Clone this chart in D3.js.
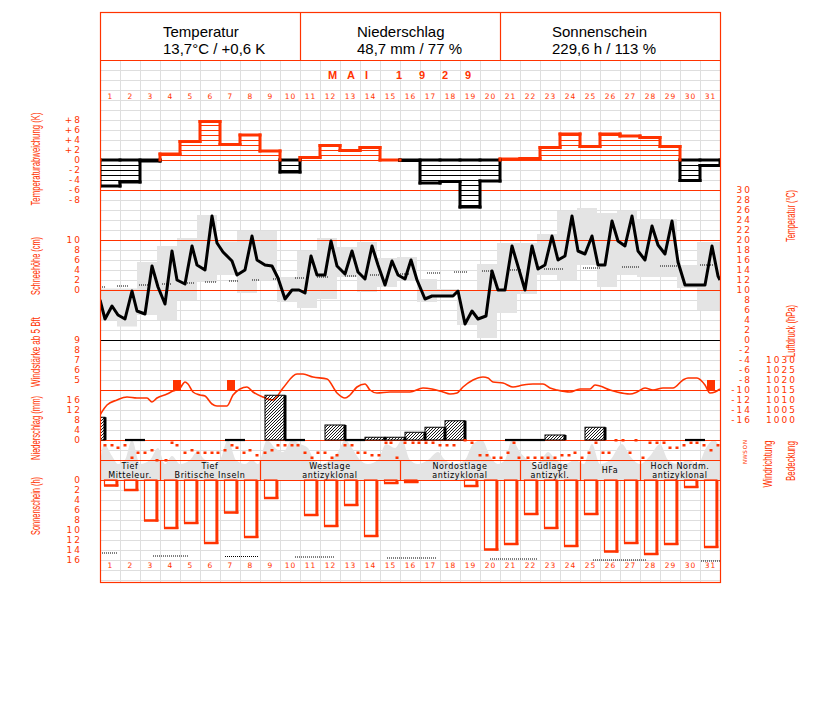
<!DOCTYPE html>
<html><head><meta charset="utf-8">
<script src="https://cdn.jsdelivr.net/npm/d3@7"></script>
<style>body{margin:0;background:#fff}</style></head>
<body><svg id="c" width="827" height="702"></svg>
<script>
// ---------------- DATA ----------------
const headerTitles = ["Temperatur","Niederschlag","Sonnenschein"];
const headerValues = ["13,7°C / +0,6 K","48,7 mm / 77 %","229,6 h / 113 %"];
const monthLabel = "MAI";
const yearLabel = "1929";
const days = d3.range(1,32);

// daily temperature anomaly (K)
const anomaly = [-5.2,-4.4,-0.2,1.2,3.7,7.7,3.1,5.0,1.8,-2.4,0.5,2.9,1.9,2.5,0.0,-0.1,-4.6,-4.3,-9.4,-4.2,0.2,0.3,2.5,5.2,2.7,5.2,4.8,4.5,2.7,-4.1,-1.1];

// daily max / min temperature (°C)
const tmax = [10.3,10.3,15.6,18.8,20.4,25.0,19.7,21.8,21.8,12.6,17.8,20.4,18.6,19.6,16.4,16.6,12.2,10.2,9.8,15.2,19.4,19.4,21.2,25.8,26.4,25.4,25.8,24.2,24.2,15.0,19.6];
const tmin = [4.0,2.7,5.0,4.0,8.0,11.6,13.0,9.4,12.0,7.6,6.4,8.2,12.6,9.6,10.6,12.0,7.6,9.0,3.0,0.4,5.4,9.2,13.0,12.0,15.0,10.6,13.0,12.6,12.6,10.4,6.0];

// temperature course (time in days since 1 May 0h, °C)
const tempT = [0,0.25,0.6,0.9,1.25,1.6,1.85,2.25,2.6,2.9,3.25,3.6,3.85,4.25,4.6,4.85,5.25,5.6,5.85,6.15,6.6,6.85,7.25,7.6,7.85,8.25,8.6,8.9,9.25,9.6,9.95,10.25,10.55,10.85,11.25,11.55,11.85,12.25,12.6,12.9,13.25,13.6,13.9,14.25,14.6,14.9,15.25,15.55,15.85,16.25,16.6,17.65,17.9,18.25,18.6,18.9,19.3,19.6,19.9,20.25,20.6,21.25,21.6,21.9,22.25,22.6,22.9,23.25,23.6,23.9,24.25,24.6,24.9,25.25,25.6,25.9,26.25,26.6,26.9,27.25,27.6,27.9,28.25,28.6,28.9,29.25,30.25,30.6,30.9,31];
const tempV = [8.0,4.2,6.8,5.0,4.2,9.8,5.8,5.2,14.8,10.6,7.2,17.8,12.0,11.2,18.8,15.0,14.0,24.8,19.4,17.6,15.8,13.0,14.0,20.8,16.0,15.0,14.8,12.4,8.2,10.0,10.0,9.4,16.8,13.0,13.0,19.8,14.8,13.2,17.8,13.6,12.2,18.8,15.0,11.0,15.8,13.0,12.2,16.0,12.0,8.2,8.8,8.8,9.8,3.2,5.8,4.2,4.8,13.8,10.0,10.0,18.8,10.0,18.8,14.2,15.0,20.8,16.0,16.8,24.8,17.8,17.2,20.8,15.0,15.0,23.8,19.8,18.8,24.8,17.8,16.0,22.8,19.0,17.2,23.8,15.6,11.0,11.0,18.8,12.8,12.0];

// normal temperature marks [from day, to day, °C]
const tempNormal = [[0,0.3,10.6],[0.85,1.4,10.8],[1.95,2.4,11.0],[3.1,3.6,11.2],[4.35,4.75,11.4],[5.25,5.85,11.6],[6.45,6.9,11.8],[7.6,8.0,12.0],[8.65,9.0,12.2],[9.75,10.2,12.4],[10.85,11.45,12.6],[12.25,12.85,12.8],[13.5,14.0,13.0],[14.9,15.5,13.2],[16.35,17.0,13.4],[17.7,18.35,13.6],[19.1,19.65,13.8],[20.4,21.1,14.0],[22.2,23.15,14.2],[24.15,25.0,14.4],[26.1,27.0,14.6],[28.0,28.95,14.8],[30.0,30.65,15.0]];

// air pressure (time in days, hPa)
const pressT = [0,0.35,0.85,1.35,1.85,2.35,2.6,2.85,3.35,3.65,4.0,4.25,4.4,4.65,5.0,5.25,5.6,5.85,6.35,6.65,7.0,7.35,7.65,8.15,8.65,9.15,9.85,10.15,10.65,11.35,11.85,12.25,12.5,12.85,13.25,13.5,13.85,14.5,15.5,16.15,16.6,17.15,17.5,17.85,18.15,18.65,19.15,19.4,19.65,20.15,20.65,21.15,21.65,22.15,22.5,22.85,23.5,24.0,24.5,24.75,25.0,25.5,25.85,26.5,26.85,27.25,27.65,28.15,28.65,29.15,29.4,29.85,30.25,30.5,30.75,31];
const pressV = [1002.5,1007.5,1010,1011.5,1011,1011,1009,1011,1013,1014.5,1016,1019,1018,1014,1012.5,1012,1008,1007,1007,1012.5,1015.5,1016.5,1014,1011.5,1010,1016,1023,1023,1021.5,1020.5,1013.5,1011,1012.5,1016.5,1018,1015,1013.5,1014,1014,1016,1015.5,1014,1013,1013.5,1016.5,1020,1021.5,1021,1019,1018.5,1016.5,1017.5,1018,1018,1016,1015,1014,1015.5,1015.5,1017.5,1017,1015,1014,1013,1014,1016,1015,1016,1016,1020,1021,1021,1017.5,1013.5,1014,1015.5];

// wind force >= 5 Bft [time in days, Bft]
const strongWind = [[3.65,5],[6.35,5],[30.35,5]];

// precipitation bars [measurement index, mm] ; traces (index)
const precipIdx = [-1,8,11,13,14,15,16,17,22,24];
const precipMM  = [9.1,17.9,6.0,1.1,1.1,3.1,5.1,7.7,2.0,5.1];
const precipTrace = [1,6,9,12,20,21,29];

// wind direction (time in days, degrees: 0=N, 90=O, 180=S, 270=W)
const windT = [0.25,0.6,0.9,1.25,1.6,1.9,2.25,2.6,2.85,3.3,3.6,3.85,4.25,4.6,4.9,5.25,5.6,5.9,6.25,6.6,6.85,7.2,7.5,7.85,8.25,8.6,8.9,9.25,9.6,9.9,10.25,10.6,10.9,11.25,11.6,11.85,12.25,12.6,12.9,13.25,13.6,13.95,14.3,14.55,14.85,15.25,15.65,15.95,16.3,16.65,17.0,17.35,17.7,18.25,18.6,19.0,19.35,19.7,20.05,20.4,20.7,20.95,21.4,21.75,22.1,22.4,22.75,23.1,23.45,23.75,24.1,24.45,24.8,25.15,25.45,25.8,26.15,26.5,26.8,27.15,27.5,27.85,28.2,28.5,28.85,29.2,29.55,29.85,30.2,30.55,30.9];
const windDir = [90,90,135,90,315,225,225,180,360,360,45,90,225,180,225,225,225,225,180,90,135,225,180,270,225,180,90,90,90,90,225,315,225,225,315,270,90,90,225,225,270,270,45,45,315,45,45,45,45,45,90,90,90,0,45,270,270,315,315,225,45,315,315,315,315,315,315,270,270,225,315,225,45,225,225,0,0,225,0,315,45,45,45,135,135,90,45,45,90,180,90];

// cloud cover (time in days, tenths)
const cloudT = [0,0.2,0.6,0.9,1.25,1.6,2.0,2.5,2.9,3.25,3.6,4.0,4.5,4.85,5.25,5.6,6.0,6.4,6.8,7.25,7.6,7.9,8.35,8.75,9.15,9.6,10.0,10.4,10.7,11.1,11.5,11.9,12.25,12.6,13.0,13.4,13.9,14.3,14.75,15.1,15.5,15.9,16.4,16.9,17.25,17.75,18.25,18.65,19.1,19.5,19.9,20.25,20.6,21.0,21.4,21.9,22.4,22.8,23.25,23.75,24.2,24.6,25.0,25.5,26.1,26.5,27.0,27.5,28.0,28.4,28.9,29.4,29.9,30.3,30.7,31];
const cloudV = [4,9,6,4,5,10,4,5,8,4,6,4,5,7,5,4,5,10,5,4,5,4,10,8,7,10,9,8,5,4,5,7,10,8,5,4,5,9,8,10,5,4,5,7,5,4,5,9,10,6,4,5,10,7,5,4,7,5,4,5,4,9,4,5,9,6,4,6,9,5,4,5,4,8,10,8];

// Großwetterlagen [first day, last day, line 1, line 2]
const gwlFrom = [1,4,9,16,22,25,28];
const gwlTo   = [3,8,15,21,24,27,31];
const gwlL1 = ["Tief","Tief","Westlage","Nordostlage","Südlage","HFa","Hoch Nordm."];
const gwlL2 = ["Mitteleur.","Britische Inseln","antizyklonal","antizyklonal","antizykl.","","antizyklonal"];

// sunshine duration (h)
const sunshine = [1.1,2.0,8.1,9.6,8.6,12.6,6.5,11.4,3.6,0,7.0,9.2,5.0,11.2,0.6,0.4,0,0,1.2,13.9,12.8,6.8,9.6,13.2,6.8,14.3,12.6,14.8,12.8,1.4,13.4];
// normal sunshine marks [from day, to day, h]
const sunNormal = [[0,0.9,14.6],[2.65,4.4,15.2],[6.25,7.9,15.3],[9.75,11.75,15.4],[14.35,16.85,15.6],[19.5,21.9,15.8],[24.65,27.35,16.0],[30.05,31,16.2]];

// axis tick values
const anomTicks = [8,6,4,2,0,-2,-4,-6,-8];
const snowTicks = [10,8,6,4,2,0];
const windTicks = [9,8,7,6,5];
const precTicks = [16,12,8,4,0];
const sunTicks = [0,2,4,6,8,10,12,14,16];
const tempTicks = d3.range(30,-17,-2);
const pressTicks = [1030,1025,1020,1015,1010,1005,1000];
const dirLabels = ["N","O","S","W","N"];

// ---------------- DRAW ----------------
const RED = "#ff3300", GRID = "#dedede", GRAY = "#e4e4e4";
const svg = d3.select("#c");
const x = d3.scaleLinear().domain([0,31]).range([100,720]);
const yAnom = d3.scaleLinear().domain([-8,8]).range([200,120]);
const yTemp = d3.scaleLinear().domain([-16,30]).range([420,190]);
const ySnow = d3.scaleLinear().domain([0,10]).range([290,240]);
const yWind = d3.scaleLinear().domain([4,9]).range([390,340]);
const yPress = d3.scaleLinear().domain([1000,1030]).range([420,360]);
const yPrec = d3.scaleLinear().domain([0,16]).range([440,400]);
const yDir = d3.scaleLinear().domain([0,360]).range([440,460]);
const yCloud = d3.scaleLinear().domain([0,10]).range([480,440]);
const ySun = d3.scaleLinear().domain([0,16]).range([480,560]);

const defs = svg.append("defs");
defs.append("clipPath").attr("id","plotclip").append("rect").attr("x",100).attr("y",60).attr("width",620).attr("height",522);
defs.append("pattern").attr("id","hatch").attr("patternUnits","userSpaceOnUse").attr("width",3).attr("height",3)
  .append("path").attr("d","M-1,1 l2,-2 M0,3 l3,-3 M2,4 l2,-2").attr("stroke","#000").attr("stroke-width",0.9);

const plot = svg.append("g").attr("clip-path","url(#plotclip)");

// grid
const grid = plot.append("g").attr("stroke",GRID).attr("stroke-width",1);
grid.selectAll("line.h").data(d3.range(70,582,10)).join("line").attr("class","h")
  .attr("x1",100).attr("x2",720).attr("y1",d=>d+0.5).attr("y2",d=>d+0.5);
grid.selectAll("line.v").data(d3.range(1,31)).join("line").attr("class","v")
  .attr("x1",d=>x(d)+0.5).attr("x2",d=>x(d)+0.5).attr("y1",60).attr("y2",582);

// cloud cover area
plot.append("path").datum(d3.zip(cloudT,cloudV))
  .attr("d",d3.area().x(d=>x(d[0])).y0(yCloud(0)).y1(d=>yCloud(d[1])).curve(d3.curveMonotoneX))
  .attr("fill",GRAY);

// temperature range boxes
plot.append("g").selectAll("rect").data(days).join("rect")
  .attr("x",d=>x(d-1.15)).attr("width",(d)=> d===31 ? x(1.15)-x(0) : x(1)-x(0))
  .attr("y",(d,i)=>yTemp(tmax[i])).attr("height",(d,i)=>yTemp(tmin[i])-yTemp(tmax[i]))
  .attr("fill",GRAY);

// reference lines
const refs = [[yAnom(0),RED],[yTemp(30),RED],[yTemp(20),RED],[yTemp(10),RED],[yTemp(0),"#000"],[yPress(1015),RED],[yPrec(0),RED],[460,RED],[480,RED],[60,RED]];
plot.append("g").selectAll("line").data(refs).join("line")
  .attr("x1",100).attr("x2",720).attr("y1",d=>Math.round(d[0])+0.5).attr("y2",d=>Math.round(d[0])+0.5)
  .attr("stroke",d=>d[1]).attr("stroke-width",1.2);

// normal temperature marks
plot.append("g").selectAll("line").data(tempNormal).join("line")
  .attr("x1",d=>x(d[0])).attr("x2",d=>x(d[1])).attr("y1",d=>yTemp(d[2])).attr("y2",d=>yTemp(d[2]))
  .attr("stroke","#000").attr("stroke-width",1).attr("stroke-dasharray","1,1");

// temperature curve
plot.append("path").datum(d3.zip(tempT,tempV))
  .attr("d",d3.line().x(d=>x(d[0])).y(d=>yTemp(d[1])))
  .attr("fill","none").attr("stroke","#000").attr("stroke-width",3).attr("stroke-linejoin","round");

// anomaly hatch
const hatchData = [];
anomaly.forEach((v,i)=>{ const s=Math.sign(v)||1; for(let k=1;k<Math.abs(v)-0.05;k++) hatchData.push({i,val:s*k,pos:v>=0}); });
plot.append("g").selectAll("line").data(hatchData).join("line")
  .attr("x1",d=>x(d.i)).attr("x2",d=>x(d.i+1)).attr("y1",d=>Math.round(yAnom(d.val))+0.5).attr("y2",d=>Math.round(yAnom(d.val))+0.5)
  .attr("stroke",d=>d.pos?RED:"#000").attr("stroke-width",1);
// anomaly outline
const ag = plot.append("g").attr("stroke-width",3).attr("stroke-linecap","square");
ag.selectAll("line.t").data(anomaly).join("line").attr("class","t")
  .attr("x1",(v,i)=>x(i)).attr("x2",(v,i)=>x(i+1)).attr("y1",v=>yAnom(v)).attr("y2",v=>yAnom(v))
  .attr("stroke",v=>v>=0?RED:"#000");
ag.selectAll("line.z").data(anomaly.map((v,i)=>({v,i})).filter(d=>d.v<0)).join("line").attr("class","z")
  .attr("x1",d=>x(d.i)).attr("x2",d=>x(d.i+1)).attr("y1",yAnom(0)).attr("y2",yAnom(0)).attr("stroke","#000");
const conn = [];
anomaly.forEach((v,i)=>{
  const prev = i===0 ? 0 : anomaly[i-1];
  const a = prev, b = v;
  if (a>=0 && b>=0) conn.push({i,y1:a,y2:b,c:RED});
  else if (a<0 && b<0) conn.push({i,y1:a,y2:b,c:"#000"});
  else { conn.push({i,y1:Math.min(a,b),y2:0,c:"#000"}); conn.push({i,y1:0,y2:Math.max(a,b),c:RED}); }
});
const last = anomaly[30];
conn.push({i:31,y1:last,y2:0,c:last<0?"#000":RED});
ag.selectAll("line.c").data(conn).join("line").attr("class","c")
  .attr("x1",d=>x(d.i)).attr("x2",d=>x(d.i)).attr("y1",d=>yAnom(d.y1)).attr("y2",d=>yAnom(d.y2)).attr("stroke",d=>d.c);

// pressure curve
plot.append("path").datum(d3.zip(pressT,pressV))
  .attr("d",d3.line().x(d=>x(d[0])).y(d=>yPress(d[1])).curve(d3.curveMonotoneX))
  .attr("fill","none").attr("stroke",RED).attr("stroke-width",1.6);

// strong wind squares
plot.append("g").selectAll("rect").data(strongWind).join("rect")
  .attr("x",d=>x(d[0])).attr("width",x(0.4)-x(0)).attr("y",d=>yWind(d[1])).attr("height",d=>yWind(d[1]-1)-yWind(d[1]))
  .attr("fill",RED);

// precipitation
const pg = plot.append("g");
pg.selectAll("rect").data(precipIdx).join("rect")
  .attr("x",d=>x(d+0.25)).attr("width",x(1)-x(0)).attr("y",(d,i)=>yPrec(precipMM[i])).attr("height",(d,i)=>yPrec(0)-yPrec(precipMM[i]))
  .attr("fill","url(#hatch)").attr("stroke","#000").attr("stroke-width",1);
pg.selectAll("line.r").data(precipIdx).join("line").attr("class","r")
  .attr("x1",d=>x(d+1.25)).attr("x2",d=>x(d+1.25)).attr("y1",(d,i)=>yPrec(precipMM[i])).attr("y2",yPrec(0))
  .attr("stroke","#000").attr("stroke-width",3);
pg.selectAll("line.tr").data(precipTrace).join("line").attr("class","tr")
  .attr("x1",d=>x(d+0.25)).attr("x2",d=>x(d+1.25)).attr("y1",yPrec(0)).attr("y2",yPrec(0))
  .attr("stroke","#000").attr("stroke-width",2.2);

// wind direction dots
plot.append("g").selectAll("rect").data(d3.zip(windT,windDir)).join("rect")
  .attr("x",d=>x(d[0])-1.5).attr("y",d=>yDir(d[1])-1).attr("width",3).attr("height",2.5).attr("fill",RED);

// Großwetterlagen band
const gb = plot.append("g");
gb.selectAll("line").data(gwlFrom.slice(1)).join("line")
  .attr("x1",d=>x(d-1)+0.5).attr("x2",d=>x(d-1)+0.5).attr("y1",460).attr("y2",480).attr("stroke",RED).attr("stroke-width",1.2);
const gt = gb.selectAll("text").data(gwlFrom).join("text")
  .attr("x",(d,i)=>(x(d-1)+x(gwlTo[i]))/2).attr("text-anchor","middle")
  .attr("font-family","DejaVu Sans, sans-serif").attr("font-size",8).attr("letter-spacing",0.6).attr("fill","#000");
gt.append("tspan").attr("x",(d,i)=>(x(d-1)+x(gwlTo[i]))/2).attr("y",(d,i)=>gwlL2[i]?469:473).text((d,i)=>gwlL1[i]);
gt.append("tspan").attr("x",(d,i)=>(x(d-1)+x(gwlTo[i]))/2).attr("y",477.5).text((d,i)=>gwlL2[i]);

// sunshine bars
const sb = plot.append("g");
const sunData = sunshine.map((v,i)=>({v,i})).filter(d=>d.v>0);
sb.selectAll("rect").data(sunData).join("rect")
  .attr("x",d=>x(d.i+0.2)+0.5).attr("width",x(0.62)-x(0)).attr("y",ySun(0)).attr("height",d=>ySun(d.v)-ySun(0))
  .attr("fill","none").attr("stroke",RED).attr("stroke-width",1.2);
sb.selectAll("line.r").data(sunData).join("line").attr("class","r")
  .attr("x1",d=>x(d.i+0.82)+0.5).attr("x2",d=>x(d.i+0.82)+0.5).attr("y1",ySun(0)).attr("y2",d=>ySun(d.v)+1)
  .attr("stroke",RED).attr("stroke-width",3);
sb.selectAll("line.b").data(sunData).join("line").attr("class","b")
  .attr("x1",d=>x(d.i+0.2)).attr("x2",d=>x(d.i+0.82)+2).attr("y1",d=>ySun(d.v)).attr("y2",d=>ySun(d.v))
  .attr("stroke",RED).attr("stroke-width",2.5);
// sunshine normals
plot.append("g").selectAll("line").data(sunNormal).join("line")
  .attr("x1",d=>x(d[0])).attr("x2",d=>x(d[1])).attr("y1",d=>ySun(d[2])).attr("y2",d=>ySun(d[2]))
  .attr("stroke","#000").attr("stroke-width",1).attr("stroke-dasharray","1,1");

// month label and day labels
svg.append("text").attr("x",328).attr("y",79).attr("textLength",40).attr("lengthAdjust","spacing")
  .attr("font-family","Liberation Sans, Arial, sans-serif").attr("font-weight","bold").attr("font-size",11).attr("fill",RED).text(monthLabel);
svg.append("text").attr("x",396).attr("y",79).attr("textLength",75).attr("lengthAdjust","spacing")
  .attr("font-family","Liberation Sans, Arial, sans-serif").attr("font-weight","bold").attr("font-size",11).attr("fill",RED).text(yearLabel);
[99,568].forEach(yy=>{
  svg.append("g").selectAll("text").data(days).join("text")
    .attr("x",d=>x(d-0.5)+0.5).attr("y",yy).attr("text-anchor","middle")
    .attr("font-family","DejaVu Sans, sans-serif").attr("font-size",7.5).attr("letter-spacing",1).attr("fill",RED).text(d=>d);
});

// axes
function tickAxis(scale, ticks, xpos, fmt){
  const g = svg.append("g").attr("transform",`translate(${xpos},0)`)
    .call(d3.axisLeft(scale).tickValues(ticks).tickSize(0).tickPadding(0).tickFormat(fmt||(d=>d)));
  g.select(".domain").remove();
  g.attr("font-family","DejaVu Sans, sans-serif").attr("font-size",9);
  g.selectAll("text").attr("fill",RED).attr("letter-spacing",2);
  return g;
}
tickAxis(yAnom, anomTicks, 82, d=> d>0 ? "+"+d : (d<0 ? "-"+(-d) : "0"));
tickAxis(ySnow, snowTicks, 82);
tickAxis(yWind, windTicks, 82);
tickAxis(yPrec, precTicks, 82);
tickAxis(ySun, sunTicks, 82);
tickAxis(yTemp, tempTicks, 752, d=> d<0 ? "-"+(-d) : d);
tickAxis(yPress, pressTicks, 797);
// wind direction letters
svg.append("g").selectAll("text").data(dirLabels).join("text")
  .attr("transform",(d,i)=>`translate(747,${yDir(i*90)+2}) rotate(-90)`).attr("text-anchor","middle")
  .attr("font-family","DejaVu Sans, sans-serif").attr("font-size",5.5).attr("fill",RED).text(d=>d);

// axis titles
const titles = [
  ["Temperaturabweichung (K)",40,159,93],["Schneehöhe (cm)",40,266,58],["Windstärke ab 5 Bft",40,352,70],
  ["Niederschlag (mm)",40,428,64],["Sonnenschein (h)",40,506,58],
  ["Temperatur (°C)",795,216,52],["Luftdruck (hPa)",795,331,52],["Windrichtung",772,464,47],["Bedeckung",795,461,40]];
svg.append("g").selectAll("text").data(titles).join("text")
  .attr("transform",d=>`translate(${d[1]},${d[2]}) rotate(-90)`).attr("text-anchor","middle")
  .attr("textLength",d=>d[3]).attr("lengthAdjust","spacingAndGlyphs")
  .attr("font-family","Liberation Sans Narrow, Liberation Sans, Arial, sans-serif").attr("font-size",12).attr("fill",RED).text(d=>d[0]);

// header
const hx = [100,300,500,720];
const hTextX = [163,357,552];
svg.append("g").selectAll("line").data(hx.slice(1,3)).join("line")
  .attr("x1",d=>d+0.5).attr("x2",d=>d+0.5).attr("y1",12).attr("y2",60).attr("stroke",RED).attr("stroke-width",1.2);
headerTitles.forEach((t,i)=>{
  svg.append("text").attr("x",hTextX[i]).attr("y",37).attr("font-family","Liberation Sans, Arial, sans-serif").attr("font-size",15).attr("fill","#000").text(t);
  svg.append("text").attr("x",hTextX[i]).attr("y",53.5).attr("font-family","Liberation Sans, Arial, sans-serif").attr("font-size",15).attr("fill","#000").text(headerValues[i]);
});

// frame
svg.append("rect").attr("x",100.5).attr("y",12.5).attr("width",620).attr("height",570)
  .attr("fill","none").attr("stroke",RED).attr("stroke-width",1.2);
</script>
</body></html>
